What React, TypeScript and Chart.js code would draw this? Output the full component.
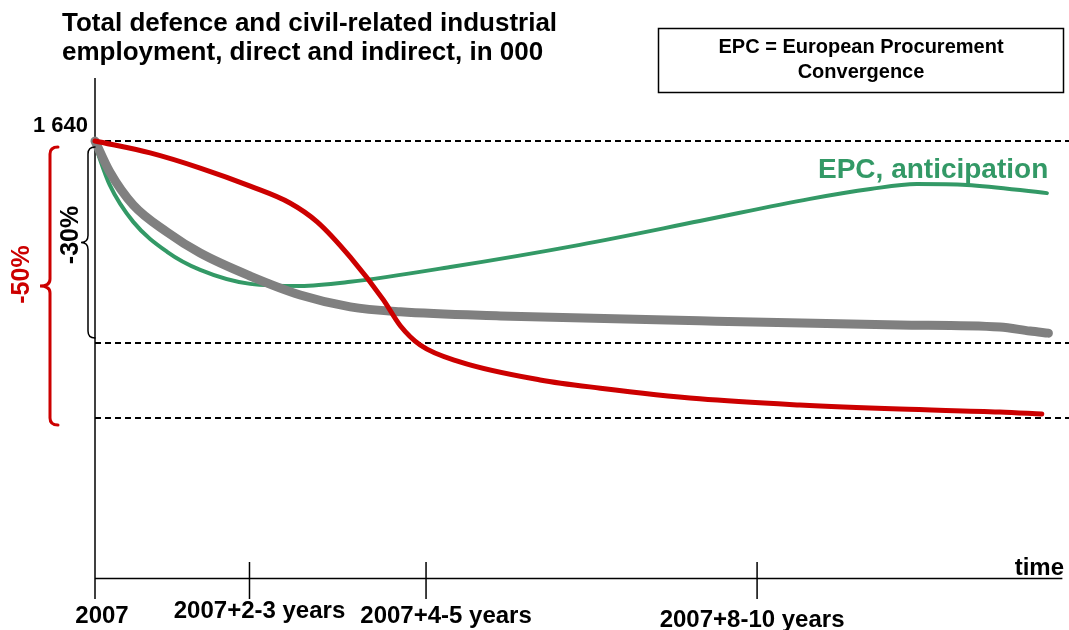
import React, { useEffect, useRef } from "react";
import { Chart, registerables } from "chart.js";

Chart.register(...registerables);

// ---- Data (thousands of jobs over time in years after 2007; schematic) ----
const tickLabels = ["2007", "2007+2-3 years", "2007+4-5 years", "2007+8-10 years"];
const tickYears = [0, 2.1, 4.5, 9];

const startValue = 1640;
const levelMinus30 = 1148;
const levelMinus50 = 965; // drawn level of the "-50%" guide in the schematic

const epcTime = [0, 0.2, 0.52, 0.98, 1.43, 2.11, 2.79, 3.47, 4.83, 6.59, 8.22, 9.72, 10.54, 11.17, 11.85, 12.94];
const epcValues = [1630, 1533, 1443, 1370, 1326, 1292, 1287, 1297, 1333, 1387, 1445, 1499, 1523, 1535, 1533, 1513];

const greyTime = [0, 0.2, 0.52, 0.98, 1.43, 2.11, 2.79, 3.47, 4.15, 5.51, 8.22, 10.94, 12.3, 12.71, 12.96];
const greyValues = [1640, 1565, 1484, 1418, 1367, 1311, 1265, 1236, 1224, 1214, 1202, 1192, 1187, 1177, 1172];

const redTime = [0, 0.75, 1.43, 2.11, 2.65, 3.02, 3.47, 3.92, 4.15, 4.42, 4.96, 6.05, 6.87, 8.22, 9.58, 10.94, 12.3, 12.87];
const redValues = [1640, 1611, 1574, 1530, 1489, 1443, 1357, 1253, 1190, 1143, 1102, 1058, 1038, 1012, 997, 987, 980, 975];

const axisEndYear = 13.15;

// ---- Styles ----
const GREEN = "#339966";
const RED = "#cc0000";
const GREY = "#808080";
const FONT = "'Liberation Sans', Arial, Helvetica, sans-serif";

function pts(xs: number[], ys: number[]) {
  return xs.map((x, i) => ({ x, y: ys[i] }));
}

function drawBrace(
  ctx: CanvasRenderingContext2D,
  xEdge: number,
  xMid: number,
  xTip: number,
  yTop: number,
  yBot: number,
  color: string,
  lw: number
) {
  const r = 7;
  const yTip = (yTop + yBot) / 2;
  ctx.save();
  ctx.strokeStyle = color;
  ctx.lineWidth = lw;
  ctx.lineCap = "round";
  ctx.beginPath();
  ctx.moveTo(xEdge, yTop);
  ctx.quadraticCurveTo(xMid, yTop, xMid, yTop + r);
  ctx.lineTo(xMid, yTip - r);
  ctx.quadraticCurveTo(xMid, yTip, xTip, yTip);
  ctx.quadraticCurveTo(xMid, yTip, xMid, yTip + r);
  ctx.lineTo(xMid, yBot - r);
  ctx.quadraticCurveTo(xMid, yBot, xEdge, yBot);
  ctx.stroke();
  ctx.restore();
}

const decoPlugin = {
  id: "deco",
  beforeDatasetsDraw(chart: any) {
    const { ctx, chartArea } = chart;
    const x = chart.scales.x;
    const y = chart.scales.y;
    const x0 = x.getPixelForValue(0);
    ctx.save();
    ctx.strokeStyle = "#000";
    ctx.lineWidth = 2;
    ctx.setLineDash([6, 4]);
    [startValue, levelMinus30, levelMinus50].forEach((v) => {
      const py = Math.round(y.getPixelForValue(v));
      ctx.beginPath();
      ctx.moveTo(x0, py);
      ctx.lineTo(chartArea.right, py);
      ctx.stroke();
    });
    ctx.setLineDash([]);
    ctx.lineWidth = 1.5;
    ctx.beginPath();
    ctx.moveTo(x0, chartArea.top);
    ctx.lineTo(x0, chartArea.bottom + 21);
    ctx.stroke();
    ctx.beginPath();
    ctx.moveTo(x0, chartArea.bottom + 0.5);
    ctx.lineTo(x.getPixelForValue(axisEndYear), chartArea.bottom + 0.5);
    ctx.stroke();
    tickYears.slice(1).forEach((t) => {
      const px = x.getPixelForValue(t);
      ctx.beginPath();
      ctx.moveTo(px, chartArea.bottom - 16);
      ctx.lineTo(px, chartArea.bottom + 21);
      ctx.stroke();
    });
    ctx.restore();
  },
  afterDraw(chart: any) {
    const { ctx, chartArea } = chart;
    const x = chart.scales.x;
    const y = chart.scales.y;
    const x0 = x.getPixelForValue(0);
    const yStart = y.getPixelForValue(startValue);
    const y30 = y.getPixelForValue(levelMinus30);
    const y50 = y.getPixelForValue(levelMinus50);
    ctx.save();
    ctx.fillStyle = "#000";
    ctx.textBaseline = "alphabetic";

    ctx.font = `bold 26px ${FONT}`;
    ctx.textAlign = "left";
    ctx.fillText("Total defence and civil-related industrial", 62, 31);
    ctx.fillText("employment, direct and indirect, in 000", 62, 60);

    ctx.lineWidth = 1.5;
    ctx.strokeStyle = "#000";
    ctx.strokeRect(658.5, 28.5, 405, 64);
    ctx.font = `bold 20px ${FONT}`;
    ctx.textAlign = "center";
    ctx.fillText("EPC = European Procurement", 861, 53);
    ctx.fillText("Convergence", 861, 78);

    ctx.font = `bold 22px ${FONT}`;
    ctx.textAlign = "right";
    ctx.fillText("1 640", x0 - 7, yStart - 9);

    ctx.fillStyle = GREEN;
    ctx.font = `bold 28px ${FONT}`;
    ctx.textAlign = "left";
    ctx.fillText("EPC, anticipation", 818, 178);

    ctx.fillStyle = "#000";
    ctx.font = `bold 24px ${FONT}`;
    ctx.textAlign = "center";
    const labelShift = [7, 10, 20, -5];
    const labelBase = [45, 40, 45, 49];
    tickLabels.forEach((lab, i) => {
      ctx.fillText(lab, x.getPixelForValue(tickYears[i]) + labelShift[i], chartArea.bottom + labelBase[i]);
    });
    ctx.textAlign = "right";
    ctx.fillText("time", 1064, chartArea.bottom - 3);

    drawBrace(ctx, x0, x0 - 7, x0 - 14, yStart + 6, y30 - 5, "#000", 1.5);
    drawBrace(ctx, x0 - 37, x0 - 45, x0 - 55, yStart + 6, y50 + 7, RED, 3);

    ctx.font = `bold 25px ${FONT}`;
    ctx.textAlign = "center";
    ctx.textBaseline = "middle";
    ctx.save();
    ctx.translate(x0 - 24, (yStart + y30) / 2 - 7);
    ctx.rotate(-Math.PI / 2);
    ctx.fillStyle = "#000";
    ctx.fillText("-30%", 0, 0);
    ctx.restore();
    ctx.save();
    ctx.translate(x0 - 73, (yStart + y50) / 2 - 5);
    ctx.rotate(-Math.PI / 2);
    ctx.fillStyle = RED;
    ctx.fillText("-50%", 0, 0);
    ctx.restore();

    ctx.restore();
  },
};

export default function App() {
  const ref = useRef<HTMLCanvasElement | null>(null);
  useEffect(() => {
    if (!ref.current) return;
    const common = {
      cubicInterpolationMode: "monotone",
      pointRadius: 0,
      borderCapStyle: "round",
      borderJoinStyle: "round",
      clip: false,
    };
    const chart = new Chart(ref.current, {
      type: "line",
      data: {
        datasets: [
          { label: "Scenario (red)", data: pts(redTime, redValues), borderColor: RED, borderWidth: 5, ...common },
          { label: "Scenario (grey)", data: pts(greyTime, greyValues), borderColor: GREY, borderWidth: 9, ...common },
          { label: "EPC, anticipation", data: pts(epcTime, epcValues), borderColor: GREEN, borderWidth: 4, ...common },
        ],
      },
      options: {
        responsive: false,
        animation: false,
        devicePixelRatio: 1,
        layout: { padding: { left: 95, right: 0, top: 78, bottom: 52 } },
        plugins: { legend: { display: false }, tooltip: { enabled: false }, title: { display: false } },
        scales: {
          x: { type: "linear", min: 0, max: 13.24, display: false },
          y: { type: "linear", min: 575.6, max: 1793.4, display: false },
        },
        events: [],
      },
      plugins: [decoPlugin],
    } as any);
    return () => chart.destroy();
  }, []);
  return (
    <div style={{ position: "fixed", left: 0, top: 0, width: 1069, height: 630, background: "#fff" }}>
      <canvas ref={ref} width={1069} height={630} style={{ display: "block" }} />
    </div>
  );
}
